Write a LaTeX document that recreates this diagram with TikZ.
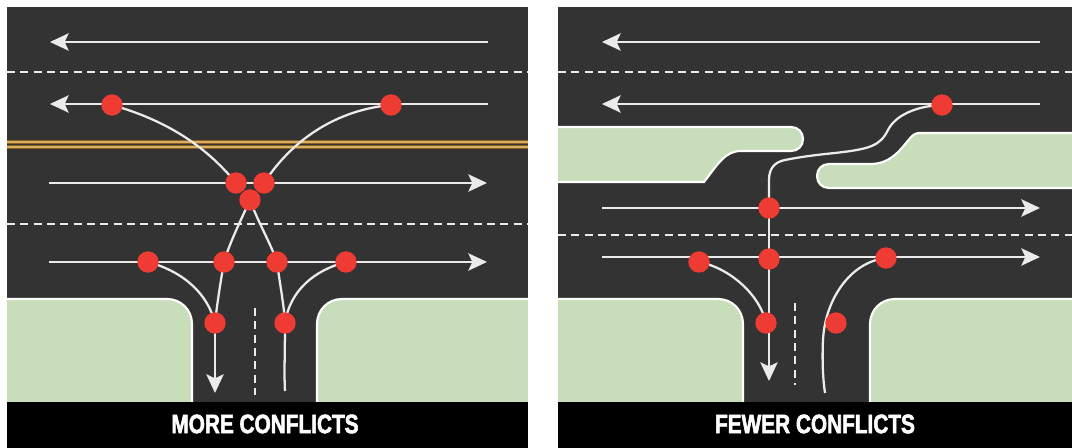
\documentclass[tikz,border=0pt]{standalone}
\usepackage{fontspec}
\usetikzlibrary{arrows.meta,calc}
\newfontfamily\capfont[FakeStretch=0.78,FakeBold=2]{Liberation Sans Bold}
\definecolor{road}{HTML}{333333}
\definecolor{grass}{HTML}{C8DDB9}
\definecolor{dotred}{HTML}{EE3B33}
\definecolor{amber}{HTML}{8A5E1C}
\definecolor{amberlight}{HTML}{D9AE68}
\pgfdeclarelayer{roadlayer}\pgfdeclarelayer{connlayer}
\pgfsetlayers{roadlayer,connlayer,main}
\tikzset{
 x=0.75pt,y=-0.75pt,
 conflict/.style={circle,fill=dotred,inner sep=0,minimum size=16pt},
 lane/.style={draw=white!92!black,line width=1.7pt},
 flow/.style={lane,-{Stealth[length=14pt,width=13pt,inset=3pt]}},
 centre/.style={draw=white!92!black,line width=1.5pt,dash pattern=on 6pt off 4pt},
 kerbline/.style={fill=grass,draw=white,line width=1.6pt},
 caption/.style={text=white,font=\capfont\fontsize{20}{22}\selectfont,inner sep=0},
}
\begin{document}
\begin{tikzpicture}
\useasboundingbox (0,0) rectangle (1072,448);
\begin{pgfonlayer}{roadlayer}
 \fill[white] (0,0) rectangle (1072,448);
 % left panel
 \fill[road] (7,7) rectangle (528,403);
 \fill[amber] (7,140) rectangle (528,149);
 \fill[road] (7,143.7) rectangle (528,145.5);
 \draw[amberlight,line width=0.9pt] (7,142) -- (528,142) (7,147) -- (528,147);
 \draw[kerbline] (5,299) -- (167,299) .. controls (181,299) and (192,310) .. (192,324) -- (192,404) -- (5,404) -- cycle;
 \draw[kerbline] (530,299) -- (342,299) .. controls (328,299) and (317,310) .. (317,324) -- (317,404) -- (530,404) -- cycle;
 \fill[white] (0,295) rectangle (7,448);
 \fill[white] (528,290) rectangle (558,448);
 \fill[black] (7,402) rectangle (528,448);
 \draw[centre] (7,72.5) -- (528,72.5);
 \draw[centre] (7,224) -- (528,224);
 \draw[centre] (254.5,308) -- (254.5,395);
 % right panel
 \fill[road] (558,7) rectangle (1072,403);
 \begin{scope}
 \clip (558,7) rectangle (1072,448);
 \draw[kerbline] (556,127) -- (791,127) .. controls (798,127) and (803,132) .. (803,139)
   .. controls (803,146) and (798,151) .. (791,151) -- (741,151)
   .. controls (725,151) and (718,164) .. (704,182) -- (556,182) -- cycle;
 \draw[kerbline] (1074,133) -- (918,133) .. controls (908,133) and (900,163) .. (872,164) -- (829,164)
   .. controls (822,164) and (817,169) .. (817,176) .. controls (817,183) and (822,188) .. (829,188) -- (1074,188) -- cycle;
 \draw[kerbline] (556,299) -- (718,299) .. controls (732,299) and (743,310) .. (743,324) -- (743,404) -- (556,404) -- cycle;
 \draw[kerbline] (1074,299) -- (895,299) .. controls (881,299) and (870,310) .. (870,324) -- (870,404) -- (1074,404) -- cycle;
 \end{scope}
 \fill[black] (558,402) rectangle (1072,448);
 \draw[centre] (558,72.5) -- (1072,72.5);
 \draw[centre] (558,235.5) -- (1072,235.5);
 \draw[centre] (795,303) -- (795,385);
\end{pgfonlayer}

% left nodes
\coordinate (a1s) at (488,42); \coordinate (a1e) at (50,42);
\coordinate (a2s) at (488,104); \coordinate (a2e) at (50,104);
\coordinate (a3s) at (49,183); \coordinate (a3e) at (487,183);
\coordinate (a4s) at (49,262); \coordinate (a4e) at (487,262);
\coordinate (ldown) at (215,393); \coordinate (lup) at (285,391);
\node[conflict] (l1) at (112,105) {};
\node[conflict] (l2) at (391,105) {};
\node[conflict] (l3) at (236,183) {};
\node[conflict] (l4) at (264,183) {};
\node[conflict] (l5) at (250,200) {};
\node[conflict] (l6) at (148,262) {};
\node[conflict] (l7) at (224,262) {};
\node[conflict] (l8) at (277,262) {};
\node[conflict] (l9) at (346,262) {};
\node[conflict] (l10) at (215,323) {};
\node[conflict] (l11) at (285,323) {};
\node[caption] (capl) at (265,424) {MORE CONFLICTS};

% right nodes
\coordinate (b1s) at (1040,42); \coordinate (b1e) at (602,42);
\coordinate (b2s) at (1040,104); \coordinate (b2e) at (602,104);
\coordinate (b3s) at (602,208); \coordinate (b3e) at (1040,208);
\coordinate (b4s) at (602,257); \coordinate (b4e) at (1040,257);
\coordinate (rdown) at (769,381); \coordinate (rup) at (825,393);
\node[conflict] (r1) at (942,105) {};
\node[conflict] (r2) at (769,208) {};
\node[conflict] (r3) at (699,262) {};
\node[conflict] (r4) at (769,259) {};
\node[conflict] (r5) at (886,258) {};
\node[conflict] (r6) at (766,323) {};
\node[conflict] (r7) at (836,323) {};
\node[caption] (capr) at (815,424) {FEWER CONFLICTS};

\begin{pgfonlayer}{connlayer}
 \draw[flow] (a1s) -- (a1e);
 \draw[flow] (a2s) -- (a2e);
 \draw[flow] (a3s) -- (a3e);
 \draw[flow] (a4s) -- (a4e);
 \draw[lane] (l1.center) .. controls (165,120) and (205,145) .. (l3.center);
 \draw[lane] (l2.center) .. controls (336,110) and (292,140) .. (l4.center);
 \draw[lane] (l5.center) .. controls (240,222) and (230,242) .. (l7.center);
 \draw[lane] (l7.center) .. controls (220,285) and (217,305) .. (l10.center);
 \draw[lane] (l5.center) .. controls (258,222) and (270,242) .. (l8.center);
 \draw[lane] (l8.center) .. controls (280,285) and (284,305) .. (l11.center);
 \draw[lane] (l6.center) .. controls (185,272) and (208,295) .. (l10.center);
 \draw[lane] (l9.center) .. controls (315,270) and (290,290) .. (l11.center);
 \draw[flow] (l10.center) -- (ldown);
 \draw[lane] (l11.center) .. controls (285,350) and (284,375) .. (lup);

 \draw[flow] (b1s) -- (b1e);
 \draw[flow] (b2s) -- (b2e);
 \draw[flow] (b3s) -- (b3e);
 \draw[flow] (b4s) -- (b4e);
 \draw[lane] (r1.center) .. controls (915,106) and (895,116) .. (888,130)
   .. controls (880,146) and (870,149) .. (835,153)
   .. controls (815,155) and (800,157) .. (785,160)
   .. controls (775,162) and (769,168) .. (769,180) -- (r2.center);
 \draw[lane] (r2.center) -- (r4.center);
 \draw[flow] (r4.center) -- (rdown);
 \draw[lane] (r3.center) .. controls (730,268) and (760,295) .. (r6.center);
 \draw[lane] (r5.center) .. controls (850,262) and (825,300) .. (823,340) .. controls (822,360) and (823,380) .. (rup);
\end{pgfonlayer}
\end{tikzpicture}
\end{document}
